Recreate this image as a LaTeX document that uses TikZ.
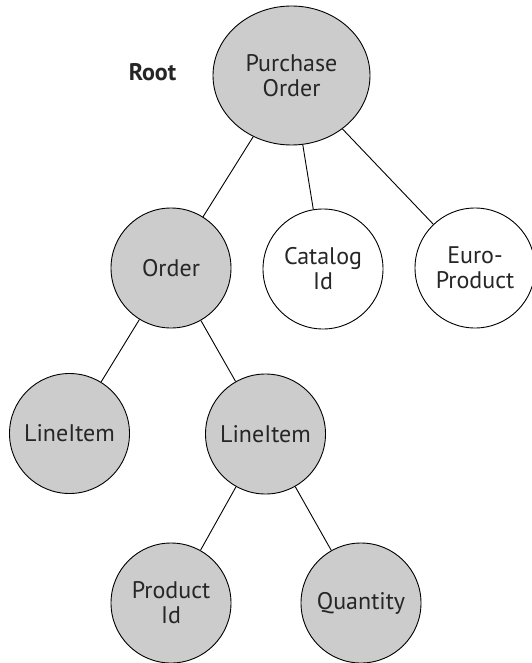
\documentclass[tikz,border=0pt]{standalone}
\usepackage{fontspec}
\setmainfont{PT Sans}
\usetikzlibrary{shapes.geometric}

\begin{document}
\begin{tikzpicture}[x=1pt,y=-1pt,
  every node/.style={font=\fontsize{24}{25}\selectfont,text=black!85,align=center},
  elem/.style={circle,draw,line width=0.9pt,fill=black!20,minimum size=120pt,inner sep=0pt},
  attr/.style={elem,fill=white}]
  \useasboundingbox (0,0) rectangle (531,663);
  \node[elem,ellipse,minimum width=157pt,minimum height=139pt] (po) at (291.5,75.5) {Purchase\\Order};
  \node[font=\fontsize{24}{25}\selectfont\bfseries] (root) at (152.5,72) {Root};
  \node[elem] (order) at (171,268) {Order};
  \node[attr] (catalog) at (323,269) {Catalog\\Id};
  \node[attr] (euro) at (475,268) {Euro-\\Product};
  \node[elem] (item1) at (69.5,433.5) {LineItem};
  \node[elem] (item2) at (265.5,434) {LineItem};
  \node[elem] (prodid) at (171,603) {Product\\Id};
  \node[elem] (qty) at (361,603) {Quantity};
  \draw[line width=0.9pt] (po) -- (order);
  \draw[line width=0.9pt] (po) -- (catalog);
  \draw[line width=0.9pt] (po) -- (euro);
  \draw[line width=0.9pt] (order) -- (item1);
  \draw[line width=0.9pt] (order) -- (item2);
  \draw[line width=0.9pt] (item2) -- (prodid);
  \draw[line width=0.9pt] (item2) -- (qty);
\end{tikzpicture}
\end{document}
